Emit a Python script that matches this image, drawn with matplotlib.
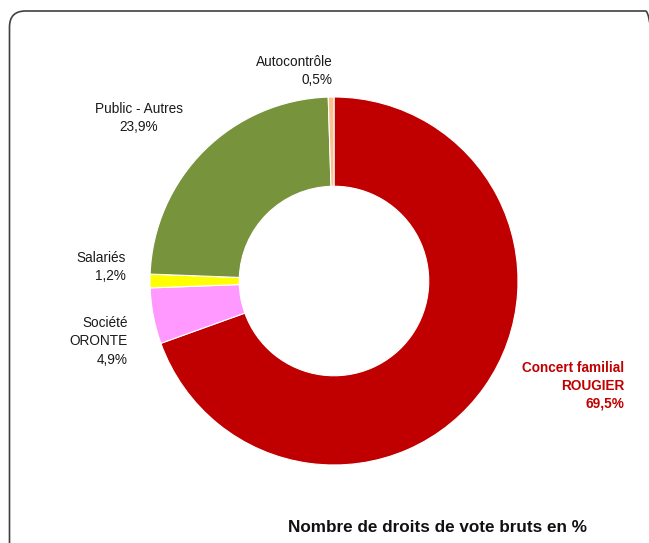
import matplotlib
matplotlib.use("Agg")
import matplotlib.pyplot as plt
from matplotlib.patches import FancyBboxPatch

plt.rcParams['font.family'] = ['Liberation Sans Narrow', 'Liberation Sans', 'DejaVu Sans']

# données (droits de vote bruts, %)
categories = ["Concert familial\nROUGIER", "Société\nORONTE", "Salariés", "Public - Autres", "Autocontrôle"]
valeurs = [69.5, 4.9, 1.2, 23.9, 0.5]
etiquettes = ["69,5%", "4,9%", "1,2%", "23,9%", "0,5%"]
couleurs = ["#C00000", "#FF99FF", "#FFFF00", "#77933C", "#FAC090"]

W, H = 649, 543
fig = plt.figure(figsize=(W / 100, H / 100), dpi=100)
ax = fig.add_axes([0, 0, 1, 1])

# cadre arrondi (coupé en bas et à droite)
cadre = FancyBboxPatch((9.5, -40), 652, H - 11 + 40, boxstyle="round,pad=0,rounding_size=16",
                       fill=False, edgecolor="#404040", linewidth=1.2, clip_on=True)
ax.add_patch(cadre)

# anneau
cx, cy, r = 334, H - 281, 184
ax.pie(valeurs, colors=couleurs, startangle=90, counterclock=False,
       center=(cx, cy), radius=r, frame=True,
       wedgeprops=dict(width=r * 0.485, edgecolor="white", linewidth=0.8))
ax.set_xlim(0, W)
ax.set_ylim(0, H)
ax.set_aspect('equal')
ax.axis('off')

# étiquettes (position en pixels depuis le haut, alignement)
pos = [(624, 361, 'right'), (128, 316, 'right'), (126, 251, 'right'),
       (139, 102, 'center'), (333, 55, 'right')]
for i, (x, y, ha) in enumerate(pos):
    texte = categories[i] + "\n" + etiquettes[i]
    if i == 0:
        ax.text(x, H - y, texte, ha=ha, va='top', fontsize=9.8, color="#C00000",
                fontweight='bold', linespacing=1.32, multialignment='right')
    else:
        ax.text(x, H - y, texte, ha=ha, va='top', fontsize=9.8, color="#1a1a1a",
                linespacing=1.4, multialignment=ha)

ax.text(437, H - 527, "Nombre de droits de vote bruts en %", ha='center', va='center',
        fontsize=12.3, fontweight='bold', color="#111111")

fig.savefig("out.png", dpi=100)
